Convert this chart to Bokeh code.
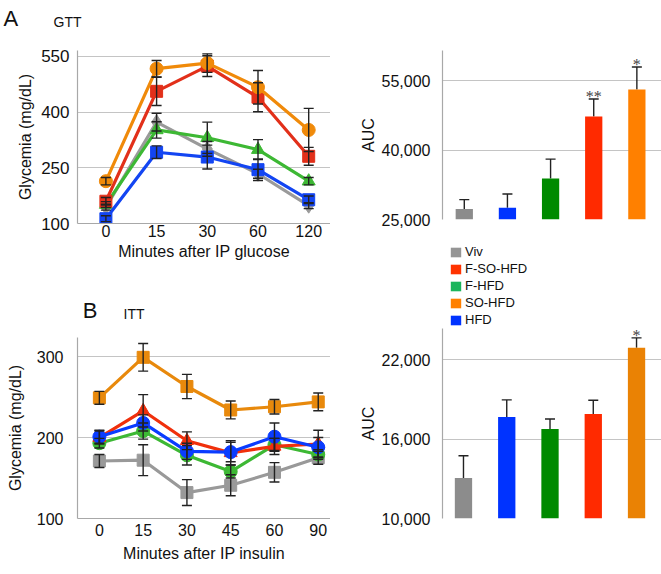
import numpy as np
from bokeh.plotting import figure
from bokeh.models import (ColumnDataSource, Whisker, TeeHead, Label, LabelSet, Legend,
                          LegendItem, FixedTicker, Range1d, NumeralTickFormatter)
from bokeh.layouts import column, row
from bokeh.embed import file_html
from bokeh.resources import INLINE

FONT = "Liberation Sans"

# ---------------- data ----------------
groups = ["Viv", "F-SO-HFD", "F-HFD", "SO-HFD", "HFD"]
legend_colors = ["#959595", "#ff3300", "#1bb55c", "#ff8000", "#0033ff"]

# GTT (glycemia mg/dL)
gtt_times = ["0", "15", "30", "60", "120"]
gtt_viv = [144, 373, 301, 234, 148]
gtt_viv_sd = [8, 24, 20, 12, 8]
gtt_fso = [160, 456, 524, 440, 281]
gtt_fso_sd = [10, 38, 28, 39, 24]
gtt_fhfd = [151, 352, 331, 299, 214]
gtt_fhfd_sd = [8, 22, 42, 27, 10]
gtt_so = [214, 517, 532, 467, 352]
gtt_so_sd = [10, 22, 25, 45, 58]
gtt_hfd = [113, 292, 279, 245, 164]
gtt_hfd_sd = [8, 17, 32, 29, 10]

# ITT (glycemia mg/dL)
itt_times = ["0", "15", "30", "45", "60", "90"]
itt_viv = [171, 172, 132, 141, 157, 175]
itt_viv_sd = [8, 19, 16, 13, 12, 8]
itt_fso = [200, 233, 196, 181, 189, 192]
itt_fso_sd = [8, 20, 11, 15, 10, 17]
itt_fhfd = [193, 208, 178, 158, 191, 179]
itt_fhfd_sd = [6, 10, 12, 8, 8, 6]
itt_so = [249, 299, 263, 234, 238, 244]
itt_so_sd = [8, 17, 15, 11, 9, 11]
itt_hfd = [201, 218, 183, 182, 201, 188]
itt_hfd_sd = [8, 10, 10, 12, 17, 12]

# AUC bars (order: Viv, HFD, F-HFD, F-SO-HFD, SO-HFD)
auc_groups = ["Viv", "HFD", "F-HFD", "F-SO-HFD", "SO-HFD"]
auc_gtt = [27250, 27540, 33840, 47250, 53040]
auc_gtt_err = [2030, 2960, 4200, 3750, 4860]
auc_gtt_sig = ["", "", "", "**", "*"]
auc_itt = [13050, 17660, 16750, 17890, 22880]
auc_itt_err = [1690, 1290, 760, 1030, 750]
auc_itt_sig = ["", "", "", "", "*"]

gtt_ticks = [100, 250, 400, 550]
itt_ticks = [100, 200, 300]
auc_gtt_ticks = [25000, 40000, 55000]
auc_itt_ticks = [10000, 16000, 22000]


def base_fig(width, height, bl, bt, bb, xr, yr):
    p = figure(width=width, height=height, x_range=xr, y_range=yr,
               output_backend="svg", toolbar_location=None,
               min_border_left=bl, min_border_right=0, min_border_top=bt,
               min_border_bottom=bb)
    p.outline_line_color = None
    p.xgrid.grid_line_color = None
    p.ygrid.grid_line_color = "#c4c4c4"
    p.ygrid.grid_line_width = 1.2
    for ax in (p.xaxis[0], p.yaxis[0]):
        ax.axis_line_color = "#a8a8a8"
        ax.axis_line_width = 1.2
        ax.major_tick_line_color = None
        ax.minor_tick_line_color = None
        ax.major_tick_out = 0
        ax.major_tick_in = 0
        ax.minor_tick_out = 0
        ax.minor_tick_in = 0
        ax.major_label_text_font = FONT
        ax.major_label_text_font_size = "16px"
        ax.major_label_text_color = "#111111"
        ax.axis_label_text_font = FONT
        ax.axis_label_text_font_size = "16px"
        ax.axis_label_text_font_style = "normal"
        ax.axis_label_text_color = "#111111"
    return p


def band(width, height):
    p = figure(width=width, height=height, x_range=Range1d(0, width),
               y_range=Range1d(0, height), output_backend="svg",
               toolbar_location=None, x_axis_type=None, y_axis_type=None,
               min_border=0)
    p.outline_line_color = None
    p.xgrid.visible = False
    p.ygrid.visible = False
    return p


def text_label(p, txt, x, y, size):
    p.add_layout(Label(x=x, y=y, text=txt, text_font=FONT, text_font_size=size,
                       text_color="#111111", text_align="left",
                       text_baseline="alphabetic"))


def line_panel(p, times, series):
    xs = list(range(len(times)))
    for vals, sd, color, marker, msize in series:
        v = np.array(vals, dtype=float)
        s = np.array(sd, dtype=float)
        src = ColumnDataSource(dict(x=xs, y=v, lo=v - s, hi=v + s))
        w = Whisker(base="x", upper="hi", lower="lo", source=src,
                    line_color="#222222", line_width=1.4, level="glyph",
                    upper_head=TeeHead(size=10, line_color="#222222", line_width=1.4),
                    lower_head=TeeHead(size=10, line_color="#222222", line_width=1.4))
        p.add_layout(w)
        p.line("x", "y", source=src, line_color=color, line_width=3.2)
        p.scatter("x", "y", source=src, marker=marker, size=msize,
                  fill_color=color, line_color=color)
    p.xaxis.ticker = FixedTicker(ticks=xs)
    p.xaxis.major_label_overrides = {i: t for i, t in enumerate(times)}


def bar_panel(p, vals, errs, sig, colors):
    xs = list(range(len(vals)))
    v = np.array(vals, dtype=float)
    e = np.array(errs, dtype=float)
    src = ColumnDataSource(dict(x=xs, top=v, hi=v + e, color=colors, sig=sig))
    p.vbar(x="x", top="top", bottom=p.y_range.start, width=0.4, source=src,
           fill_color="color", line_color=None)
    p.add_layout(Whisker(base="x", upper="hi", lower="top", source=src,
                         line_color="#222222", line_width=1.4,
                         upper_head=TeeHead(size=10, line_color="#222222", line_width=1.4),
                         lower_head=None))
    p.add_layout(LabelSet(x="x", y="hi", text="sig", source=src, y_offset=-6,
                          text_align="center", text_baseline="bottom",
                          text_font="DejaVu Sans", text_font_size="16px",
                          text_color="#444444"))
    p.xaxis.visible = False
    p.yaxis.formatter = NumeralTickFormatter(format="0,0")
    p.yaxis.axis_label = "AUC"
    p.yaxis.axis_label_standoff = 2
    p.yaxis.major_label_standoff = 12


# ---------------- header band (A / GTT) ----------------
head = band(661, 42)
text_label(head, "A", 3, 24, "22px")
text_label(head, "GTT", 53, 21, "14px")

# ---------------- A: GTT ----------------
pA = base_fig(330, 235, 73, 8, 54, Range1d(-0.56, 4.43), Range1d(100, 566))
pA.yaxis.ticker = FixedTicker(ticks=gtt_ticks)
pA.yaxis.major_label_text_font_size = "17px"
pA.yaxis.major_label_standoff = 8
pA.yaxis.axis_label = "Glycemia (mg/dL)"
pA.yaxis.axis_label_standoff = 4
pA.xaxis.axis_label = "Minutes after IP glucose"
pA.xaxis.major_label_standoff = 1
pA.xaxis.axis_label_standoff = 3
line_panel(pA, gtt_times, [
    (gtt_viv, gtt_viv_sd, "#9a9a9a", "diamond", 15),
    (gtt_fhfd, gtt_fhfd_sd, "#3db834", "triangle", 13),
    (gtt_fso, gtt_fso_sd, "#e2301a", "square", 12),
    (gtt_so, gtt_so_sd, "#f08a0a", "circle", 13),
    (gtt_hfd, gtt_hfd_sd, "#1345f2", "square", 12),
])

# ---------------- band B / ITT ----------------
bandB = band(330, 53)
text_label(bandB, "B", 7, 20, "22px")
text_label(bandB, "ITT", 60, 17, "14px")

# ---------------- B: ITT ----------------
pB = base_fig(330, 244, 77, 7, 56, Range1d(-0.5, 5.28), Range1d(100, 323.5))
pB.yaxis.ticker = FixedTicker(ticks=itt_ticks)
pB.yaxis.major_label_standoff = 14
pB.yaxis.axis_label = "Glycemia (mg/dL)"
pB.yaxis.axis_label_standoff = 10
pB.xaxis.axis_label = "Minutes after IP insulin"
pB.xaxis.major_label_standoff = 5
pB.xaxis.axis_label_standoff = 6
line_panel(pB, itt_times, [
    (itt_viv, itt_viv_sd, "#999999", "square", 12),
    (itt_fhfd, itt_fhfd_sd, "#3db834", "circle", 13),
    (itt_fso, itt_fso_sd, "#f0300c", "triangle", 13),
    (itt_hfd, itt_hfd_sd, "#0a3cff", "circle", 13),
    (itt_so, itt_so_sd, "#e8890c", "square", 12),
])

# ---------------- A: AUC ----------------
pA2 = base_fig(331, 187, 100, 8, 10, Range1d(-0.505, 4.571), Range1d(25000, 61475))
pA2.yaxis.ticker = FixedTicker(ticks=auc_gtt_ticks)
bar_panel(pA2, auc_gtt, auc_gtt_err, auc_gtt_sig,
          ["#8c8c8c", "#0033ff", "#008a00", "#ff2a00", "#ff8000"])

# ---------------- legend band ----------------
legB = band(331, 99)
items = []
for name, col in zip(groups, legend_colors):
    r = legB.vbar(x=[np.nan], top=[np.nan], width=1, fill_color=col, line_color=None)
    items.append(LegendItem(label=name, renderers=[r]))
legend = Legend(items=items, location=(7, 0), border_line_color=None,
                background_fill_alpha=0, padding=0, margin=0, spacing=0,
                label_height=17, glyph_height=12, glyph_width=13,
                label_standoff=3, label_text_font=FONT,
                label_text_font_size="13px", label_text_color="#111111")
legB.add_layout(legend)

# ---------------- B: AUC ----------------
pB2 = base_fig(331, 246, 112, 0, 56, Range1d(-0.485, 4.577), Range1d(10000, 24340))
pB2.yaxis.ticker = FixedTicker(ticks=auc_itt_ticks)
bar_panel(pB2, auc_itt, auc_itt_err, auc_itt_sig,
          ["#8c8c8c", "#0033ff", "#008a00", "#ff2a00", "#ea8204"])

layout = column(head,
                row(column(pA, bandB, pB), column(pA2, legB, pB2)))
open("out.html", "w").write(file_html(layout, INLINE))
